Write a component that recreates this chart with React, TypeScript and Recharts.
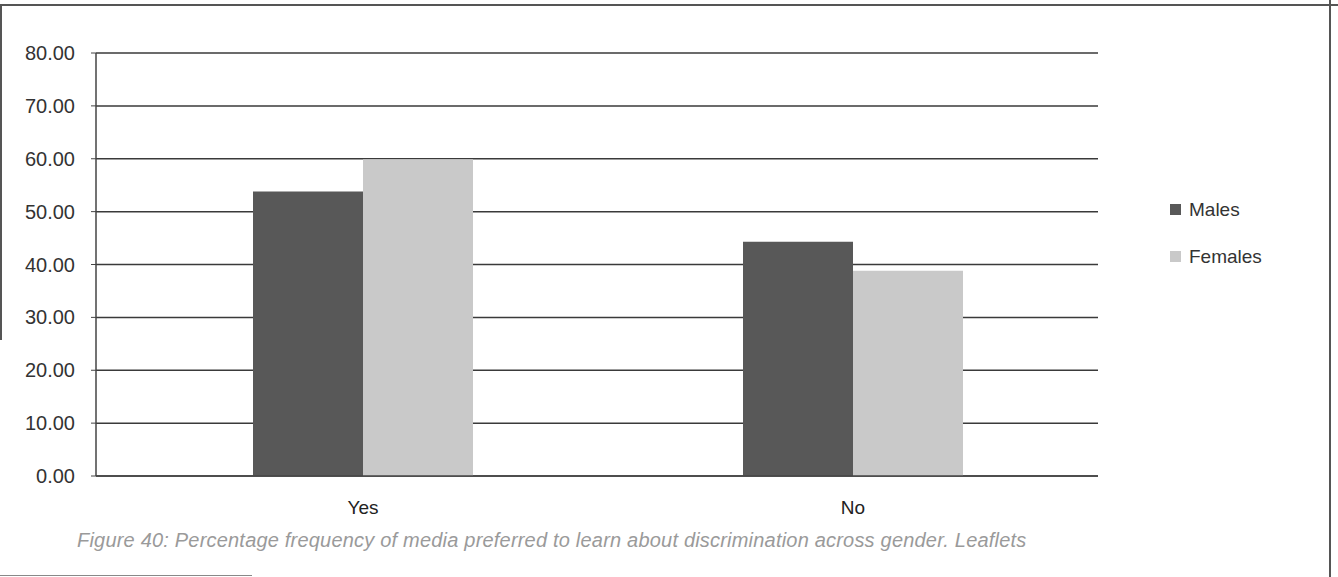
import React from "react";
import { BarChart, Bar, XAxis, YAxis, CartesianGrid } from "recharts";

// values
const categories = ["Yes", "No"];
const males = [53.8, 44.3];
const females = [59.9, 38.8];
const yTicks = [0, 10, 20, 30, 40, 50, 60, 70, 80];

const MALE_COLOR = "#585858";
const FEMALE_COLOR = "#c9c9c9";
const FONT = '"Liberation Sans", Arial, Helvetica, sans-serif';

const data = categories.map((c, i) => ({
  name: c,
  Males: males[i],
  Females: females[i],
}));

function LegendBox() {
  const items = [
    { label: "Males", color: MALE_COLOR },
    { label: "Females", color: FEMALE_COLOR },
  ];
  return (
    <div
      style={{
        position: "absolute",
        left: 1170,
        top: 186,
        fontFamily: FONT,
        fontSize: 19,
        color: "#333",
      }}
    >
      {items.map((it) => (
        <div
          key={it.label}
          style={{ display: "flex", alignItems: "center", height: 47 }}
        >
          <span
            style={{
              width: 11,
              height: 11,
              background: it.color,
              display: "inline-block",
              marginRight: 8,
            }}
          />
          {it.label}
        </div>
      ))}
    </div>
  );
}

export default function App() {
  return (
    <div
      style={{
        position: "absolute",
        left: 0,
        top: 0,
        width: 1338,
        height: 577,
        background: "#fff",
        fontFamily: FONT,
      }}
    >
      {/* page frame from the scan */}
      <div style={{ position: "absolute", left: 0, top: 4, width: 1338, height: 2, background: "#555" }} />
      <div style={{ position: "absolute", left: 0, top: 4, width: 2, height: 336, background: "#555" }} />
      <div style={{ position: "absolute", left: 1329, top: 0, width: 2, height: 577, background: "#555" }} />
      <div style={{ position: "absolute", left: 0, top: 575, width: 252, height: 1, background: "#888" }} />

      <BarChart
        width={1338}
        height={577}
        data={data}
        margin={{ top: 53, right: 240, bottom: 71, left: 0 }}
        barGap={0}
      >
        <CartesianGrid
          vertical={false}
          stroke="#3a3a3a"
          strokeWidth={1.5}
        />
        <XAxis
          dataKey="name"
          height={30}
          padding={{ left: 22, right: 0 }}
          axisLine={{ stroke: "#444", strokeWidth: 1.5 }}
          tickLine={false}
          tickMargin={19}
          tick={{ fontSize: 19, fill: "#222", fontFamily: FONT }}
        />
        <YAxis
          width={96}
          domain={[0, 80]}
          ticks={yTicks}
          interval={0}
          tickSize={5}
          tickMargin={16}
          axisLine={{ stroke: "#444", strokeWidth: 1.5 }}
          tickLine={{ stroke: "#444" }}
          tickFormatter={(v: number) => v.toFixed(2)}
          tick={{ fontSize: 20, fill: "#333", fontFamily: FONT }}
        />
        <Bar dataKey="Males" fill={MALE_COLOR} barSize={110} isAnimationActive={false} />
        <Bar dataKey="Females" fill={FEMALE_COLOR} barSize={110} isAnimationActive={false} />
      </BarChart>

      <LegendBox />

      <div
        style={{
          position: "absolute",
          left: 77,
          top: 529,
          fontSize: 20,
          letterSpacing: 0.2,
          fontStyle: "italic",
          color: "#9a9a9a",
          whiteSpace: "nowrap",
        }}
      >
        Figure 40: Percentage frequency of media preferred to learn about discrimination across gender. Leaflets
      </div>
    </div>
  );
}
